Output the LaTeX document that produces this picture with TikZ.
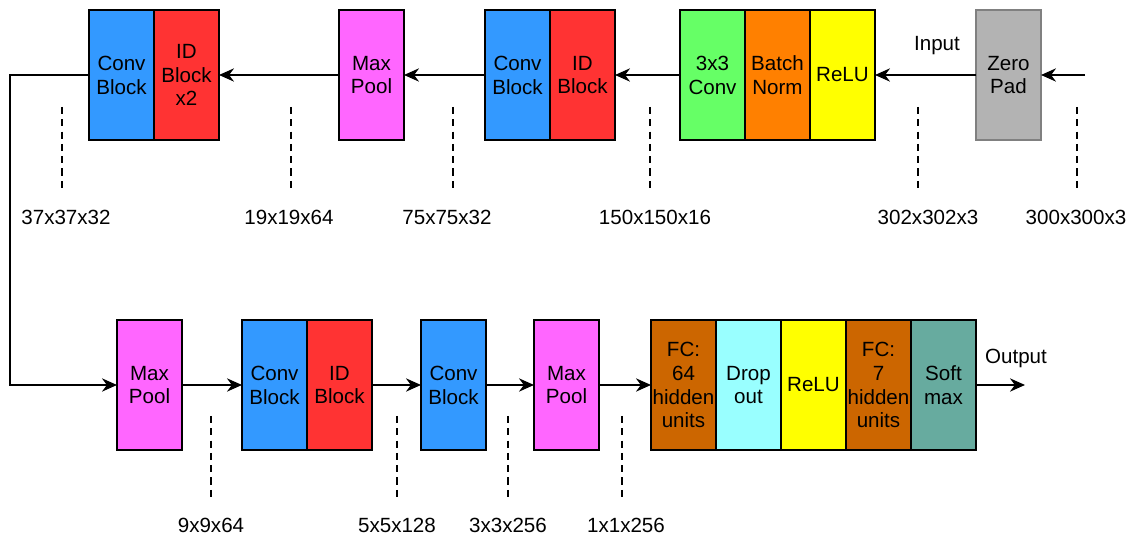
\documentclass[tikz,border=0pt]{standalone}
\usepackage{fontspec}
\setmainfont{Liberation Sans}
\usetikzlibrary{arrows.meta,positioning}

\definecolor{cblue}{HTML}{3399FF}
\definecolor{cred}{HTML}{FF3333}
\definecolor{cpink}{HTML}{FF66FF}
\definecolor{cgreen}{HTML}{66FF66}
\definecolor{corange}{HTML}{FF8000}
\definecolor{cyell}{HTML}{FFFF00}
\definecolor{cgrey}{HTML}{B3B3B3}
\definecolor{cbrown}{HTML}{CC6600}
\definecolor{ccyan}{HTML}{99FFFF}
\definecolor{cteal}{HTML}{67AB9F}

\begin{document}
\begin{tikzpicture}[
  font=\fontsize{11.7}{13.6}\selectfont,
  layer/.style={draw, line width=1.4pt, minimum width=1.3cm, minimum height=2.6cm,
    inner sep=0pt, outer sep=0pt, align=center},
  flow/.style={line width=1.3pt, -{Stealth[length=8.5pt,width=7.5pt]}},
  dim/.style={line width=1.3pt, dash pattern=on 4pt off 3pt}
]
\useasboundingbox (0,0) rectangle (22.88,10.8);

% first row, read right to left
\node[layer, fill=cgrey, draw=gray] (zp) at (20.17,9.3) {Zero\\Pad};
\node[layer, fill=cyell] (relu1) at (16.85,9.3) {ReLU};
\node[layer, fill=corange, left=0pt of relu1] (bn) {Batch\\Norm};
\node[layer, fill=cgreen, left=0pt of bn] (conv) {3x3\\Conv};
\node[layer, fill=cred] (id2) at (11.65,9.3) {ID\\Block};
\node[layer, fill=cblue, left=0pt of id2] (cb2) {Conv\\Block};
\node[layer, fill=cpink] (mp1) at (7.43,9.3) {Max\\Pool};
\node[layer, fill=cred] (id1) at (3.73,9.3) {ID\\Block\\x2};
\node[layer, fill=cblue, left=0pt of id1] (cb1) {Conv\\Block};

% second row, left to right
\node[layer, fill=cpink] (mp2) at (2.99,3.1) {Max\\Pool};
\node[layer, fill=cblue] (cb3) at (5.49,3.1) {Conv\\Block};
\node[layer, fill=cred, right=0pt of cb3] (id3) {ID\\Block};
\node[layer, fill=cblue] (cb4) at (9.07,3.1) {Conv\\Block};
\node[layer, fill=cpink] (mp3) at (11.33,3.1) {Max\\Pool};
\node[layer, fill=cbrown] (fc1) at (13.67,3.1) {FC:\\64\\hidden\\units};
\node[layer, fill=ccyan, right=0pt of fc1] (drop) {Drop\\out};
\node[layer, fill=cyell, right=0pt of drop] (relu2) {ReLU};
\node[layer, fill=cbrown, right=0pt of relu2] (fc2) {FC:\\7\\hidden\\units};
\node[layer, fill=cteal, right=0pt of fc2] (sm) {Soft\\max};

\coordinate (in) at (21.7,9.3);
\coordinate (bend) at (0.2,9.3);
\coordinate (out) at (20.5,3.1);

\draw[flow] (in) -- (zp);
\draw[flow] (zp) -- (relu1);
\draw[flow] (conv) -- (id2);
\draw[flow] (cb2) -- (mp1);
\draw[flow] (mp1) -- (id1);
\draw[flow] (cb1.west) -- (bend) |- (mp2.west);
\draw[flow] (mp2) -- (cb3);
\draw[flow] (id3) -- (cb4);
\draw[flow] (cb4) -- (mp3);
\draw[flow] (mp3) -- (fc1);
\draw[flow] (sm) -- (out);

\node (inlbl) at (18.74,9.88) {Input};
\node (outlbl) at (20.32,3.64) {Output};

% tensor sizes
\foreach \x in {1.24, 5.82, 9.06, 13.0, 18.36, 21.54} {
  \draw[dim] (\x,8.66) -- (\x,6.96);
}
\node (s1) at (1.32,6.46) {37x37x32};
\node (s2) at (5.78,6.46) {19x19x64};
\node (s3) at (8.94,6.46) {75x75x32};
\node (s4) at (13.1,6.46) {150x150x16};
\node (s5) at (18.56,6.46) {302x302x3};
\node (s6) at (21.52,6.46) {300x300x3};

\foreach \x in {4.22, 7.94, 10.16, 12.44} {
  \draw[dim] (\x,2.48) -- (\x,0.8);
}
\node (t1) at (4.22,0.3) {9x9x64};
\node (t2) at (7.94,0.3) {5x5x128};
\node (t3) at (10.16,0.3) {3x3x256};
\node (t4) at (12.52,0.3) {1x1x256};
\end{tikzpicture}
\end{document}
